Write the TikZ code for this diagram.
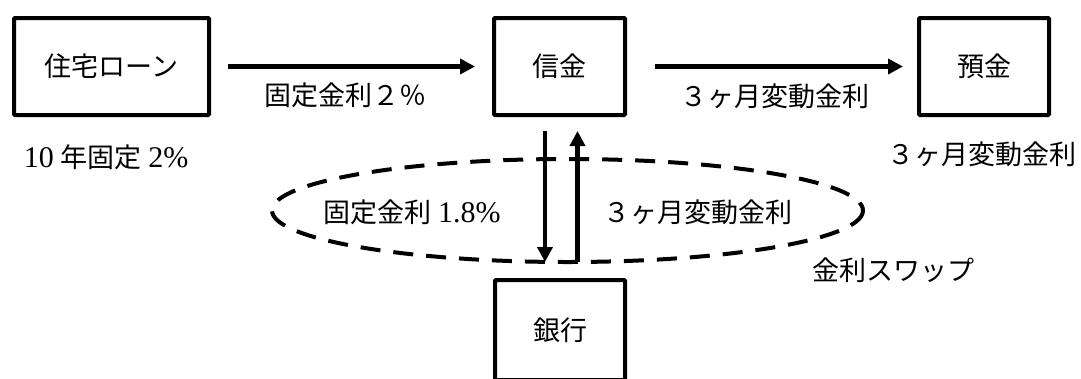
\documentclass[tikz,border=0pt]{standalone}
\usepackage{fontspec}
\setmainfont{Liberation Serif}
\newfontfamily\jp{Noto Sans CJK JP}
\newcommand\latn[1]{{\fontsize{30}{30}\selectfont #1}}
\usetikzlibrary{arrows.meta}
\begin{document}
\begin{tikzpicture}[x=1pt,y=-1pt,
  box/.style={draw,line width=4pt,rounded corners=1pt,minimum height=97pt,inner sep=0pt,
              font=\jp\fontsize{27}{30}\selectfont},
  flow/.style={line width=4.5pt,-{Triangle[length=15pt,width=15pt]}},
  lbl/.style={inner sep=0pt,font=\fontsize{27}{30}\selectfont},
  swapring/.style={dash pattern=on 20pt off 13pt,line width=4pt}]
\useasboundingbox (0,0) rectangle (1081,378);
\clip (0,0) rectangle (1081,378);
% boxes
\node[box,minimum width=195pt] (loan)    at (111.5,66.5) {住宅ローン};
\node[box,minimum width=131pt] (shinkin) at (559.5,66.5) {信金};
\node[box,minimum width=130pt] (yokin)   at (984,66.5)   {預金};
\node[box,minimum width=130pt,minimum height=100pt] (ginko) at (560,330) {銀行};
% swap ellipse
\draw[swapring] (567.5,210.5) ellipse [x radius=295.5, y radius=51.5];
% connectors
\draw[flow,shorten <=17pt,shorten >=17pt] (loan) -- (shinkin);
\draw[flow,shorten <=28pt,shorten >=14pt] (shinkin) -- (yokin);
\draw[flow,shorten <=14pt,shorten >=16pt] ([xshift=-14.5pt]shinkin.south) -- ([xshift=-15pt]ginko.north);
\draw[flow,shorten <=16pt,shorten >=14pt] ([xshift=17.5pt]ginko.north) -- ([xshift=18pt]shinkin.south);
% labels
\node[lbl] (l1) at (345,95)  {\jp 固定金利２％};
\node[lbl] (l2) at (775,96)  {\jp ３ヶ月変動金利};
\node[lbl] (l3) at (106,157) {\latn{10} {\jp 年固定} \latn{2\%}};
\node[lbl] (l4) at (982,154) {\jp ３ヶ月変動金利};
\node[lbl] (l5) at (412,212) {{\jp 固定金利} \latn{1.8\%}};
\node[lbl] (l6) at (698,212) {\jp ３ヶ月変動金利};
\node[lbl] (l7) at (893,270) {\jp 金利スワップ};
\end{tikzpicture}
\end{document}
